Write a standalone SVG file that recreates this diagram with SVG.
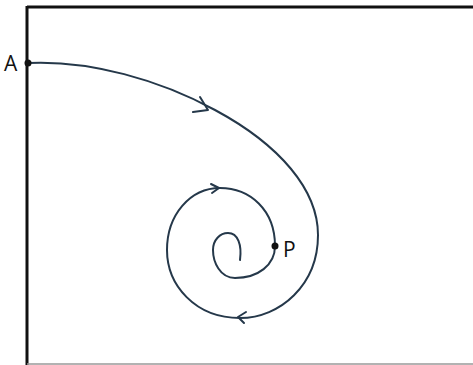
<svg xmlns="http://www.w3.org/2000/svg" width="473" height="365" viewBox="0 0 473 365">
<style>
.curve{fill:none;stroke:#25384a;stroke-width:2;stroke-linecap:round;stroke-linejoin:round}
.lbl{font-family:"Open Sans","Liberation Sans",sans-serif;font-size:21px;fill:#111}
.dot{fill:#111}
</style>
<rect width="473" height="365" fill="#fff"/>
<g id="frame">
<line x1="27" y1="7" x2="473" y2="7" stroke="#111" stroke-width="3"/>
<line x1="27" y1="6" x2="27" y2="365" stroke="#111" stroke-width="3"/>
<line x1="27" y1="364" x2="473" y2="364" stroke="#999" stroke-width="1.5"/>
</g>
<g id="connectors">
<path class="curve" d="M28,63 C90,60 160,80 215,110 C280,145 318,190 318,235 C318,285 280,318 240,318 C195,318 167,285 167,250 C167,215 190,188 220,188 C250,188 275,210 275,246 C275,265 258,278 235,278 C220,278 213,262 213,250 C213,240 220,233 228,233 C238,233 242,245 240,260"/>
<path class="curve" d="M200,97 L208,110 L193,112"/>
<path class="curve" d="M246,312 L238,317 L244,323"/>
<path class="curve" d="M211,184 L219,188 L212,193"/>
</g>
<g id="node-A">
<circle class="dot" cx="28" cy="63" r="3.5"/>
<text class="lbl" x="4" y="71">A</text>
</g>
<g id="node-P">
<circle class="dot" cx="275" cy="246" r="3.5"/>
<text class="lbl" x="283" y="257">P</text>
</g>
</svg>
